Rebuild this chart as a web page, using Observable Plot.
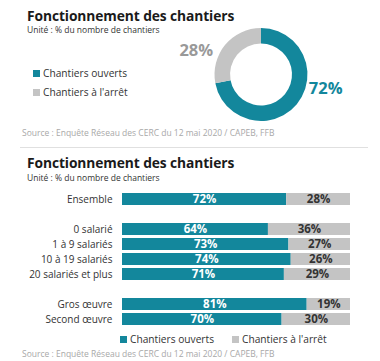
<!DOCTYPE html>
<html><head><meta charset="utf-8">
<script src="https://cdn.jsdelivr.net/npm/d3@7"></script>
<script src="https://cdn.jsdelivr.net/npm/@observablehq/plot@0.6"></script>
<style>
body{margin:0;background:#fff;font-family:"Open Sans",sans-serif;}
#wrap{position:relative;width:380px;height:361px;overflow:hidden;}
.abs{position:absolute;white-space:nowrap;}
.title{font-size:13.8px;font-weight:700;color:#1a1a1a;line-height:16px;letter-spacing:-0.1px;}
.sub{font-size:8.5px;color:#333;line-height:12px;}
.src{font-size:8.5px;color:#a8a8a8;line-height:12px;}
.leg{font-size:10.2px;color:#333;line-height:14px;}
.sw{display:inline-block;width:7px;height:7px;margin-right:3px;vertical-align:0px;}
</style></head>
<body><div id="wrap"></div>
<script>
const TEAL = "#13879c", GREY = "#c4c4c4";
// data
const statuses = ["Chantiers ouverts", "Chantiers à l'arrêt"];
const categories = ["Ensemble","0 salarié","1 à 9 salariés","10 à 19 salariés","20 salariés et plus","Gros œuvre","Second œuvre"];
const ouverts = [72, 64, 73, 74, 71, 81, 70];
const arret = [28, 36, 27, 26, 29, 19, 30];
const donutValues = [72, 28];
const yOrder = ["Ensemble", "", "0 salarié","1 à 9 salariés","10 à 19 salariés","20 salariés et plus", " ", "Gros œuvre","Second œuvre"];
const sourceText = "Source : Enquête Réseau des CERC du 12 mai 2020 / CAPEB, FFB";
const titleText = "Fonctionnement des chantiers";
const subText = "Unité : % du nombre de chantiers";

const wrap = document.getElementById("wrap");
function addDiv(cls, html, left, top) {
  const d = document.createElement("div");
  d.className = "abs " + cls; d.innerHTML = html;
  d.style.left = left + "px"; d.style.top = top + "px";
  wrap.appendChild(d); return d;
}

// ---- donut ----
const slices = statuses.map((s, i) => ({status: s, value: donutValues[i]}));
const donutMark = (index, scales, values, dimensions) => {
  const cx = scales.x(0), cy = scales.y(0);
  const pie = d3.pie().sort(null).value(d => d.value)(slices);
  const arc = d3.arc().innerRadius(31).outerRadius(46.5);
  const g = d3.create("svg:g").attr("transform", `translate(${cx},${cy})`);
  g.selectAll("path").data(pie).join("path")
    .attr("d", arc)
    .attr("fill", d => scales.color(d.data.status));
  g.selectAll("text").data(pie).join("text")
    .attr("x", d => Math.sin((d.startAngle + d.endAngle) / 2) * 84)
    .attr("y", d => -Math.cos((d.startAngle + d.endAngle) / 2) * 30 - 5)
    .attr("text-anchor", "middle").attr("dy", "0.35em")
    .attr("font-size", 16.5).attr("font-weight", 700)
    .attr("fill", d => d.data.status === statuses[0] ? TEAL : "#999")
    .text(d => d.data.value + "%");
  return g.node();
};
const donut = Plot.plot({
  width: 182, height: 139, margin: 0,
  x: {domain: [-1, 1], axis: null},
  y: {domain: [-1, 1], axis: null},
  color: {domain: statuses, range: [TEAL, GREY]},
  style: {background: "transparent", fontFamily: "Open Sans"},
  marks: [donutMark]
});
donut.style.position = "absolute"; donut.style.left = "170px"; donut.style.top = "5px";
wrap.appendChild(donut);

addDiv("title", titleText, 27, 8);
addDiv("sub", subText, 27, 24);
addDiv("leg", `<span class="sw" style="background:${TEAL}"></span>${statuses[0]}`, 33, 66);
addDiv("leg", `<span class="sw" style="background:${GREY}"></span>${statuses[1]}`, 33, 85);
addDiv("src", sourceText, 22, 127);
const hr = addDiv("", "", 20, 147);
hr.style.width = "348px"; hr.style.height = "1px"; hr.style.background = "#e0e0e0";

// ---- bars ----
const rows = [];
categories.forEach((c, i) => {
  rows.push({cat: c, status: statuses[0], value: ouverts[i]});
  rows.push({cat: c, status: statuses[1], value: arret[i]});
});
const bars = Plot.plot({
  width: 380, height: 145,
  marginLeft: 122, marginRight: 30, marginTop: 4, marginBottom: 0,
  x: {domain: [0, 100], axis: null},
  y: {domain: yOrder, padding: 0.23, tickSize: 0, tickPadding: 10, label: null},
  color: {domain: statuses, range: [TEAL, GREY]},
  style: {background: "transparent", fontFamily: "Open Sans", fontSize: "10px", color: "#333"},
  marks: [
    Plot.barX(rows, Plot.stackX({x: "value", y: "cat", fill: "status", z: "status"})),
    Plot.text(rows, Plot.stackX({x: "value", y: "cat", z: "status",
      text: d => d.value + "%",
      fill: d => d.status === statuses[0] ? "white" : "#333",
      fontWeight: 700, fontSize: 11.5}))
  ]
});
bars.style.position = "absolute"; bars.style.left = "0px"; bars.style.top = "184px";
wrap.appendChild(bars);

addDiv("title", titleText, 27, 155);
addDiv("sub", subText, 27, 172);
const bl = addDiv("leg", `<span class="sw" style="background:${TEAL}"></span>${statuses[0]}<span style="display:inline-block;width:18px"></span><span class="sw" style="background:${GREY}"></span>${statuses[1]}`, 120, 332);
addDiv("src", sourceText, 22, 348);
</script></body></html>
